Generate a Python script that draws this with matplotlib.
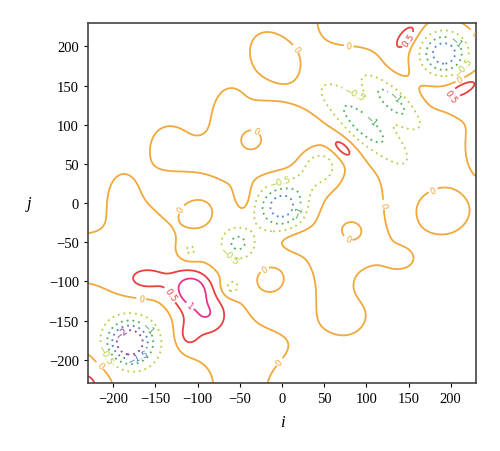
import numpy as np
import matplotlib
matplotlib.use("Agg")
import matplotlib.pyplot as plt

# contour levels and their colours (negative levels are dotted)
levels = [-2.0, -1.5, -1.0, -0.5, 0.0, 0.5, 1.0]
level_colors = ["#8a3fa0", "#4f7fd0", "#4fae5a", "#b5cf3c", "#f0a93a", "#e8403c", "#e6348a"]

# sign of the gentle ground between the zero lines, read on a 40-unit grid
ground_x = [-220, -180, -140, -100, -60, -20, 20, 60, 100, 140, 180, 220]
ground_y = [220, 180, 140, 100, 60, 20, -20, -60, -100, -140, -180, -220]
ground_sign = [
    [-1, -1, -1, -1, -1, -1, -1,  1,  1,  1,  1,  1],
    [-1, -1, -1, -1, -1,  0, -1, -1, -1,  1,  1,  1],
    [-1, -1, -1, -1,  0, -1, -1, -1, -1, -1,  1,  1],
    [-1, -1,  0, -1,  1,  1,  1,  0, -1, -1, -1,  0],
    [-1, -1,  1,  1,  1,  1,  1,  1,  0, -1, -1,  0],
    [-1,  0, -1, -1,  0,  0, -1,  0,  1, -1, -1, -1],
    [-1,  1,  0, -1, -1, -1,  0,  1,  1, -1, -1, -1],
    [ 1,  1,  1, -1, -1, -1,  0,  1,  1,  0, -1, -1],
    [ 0,  1,  1,  1, -1, -1, -1,  1, -1, -1, -1, -1],
    [-1, -1, -1,  1,  1, -1, -1,  1,  0, -1, -1, -1],
    [ 0, -1, -1,  1,  1,  1,  0, -1, -1, -1, -1, -1],
    [ 1, -1, -1, -1,  1,  0, -1, -1, -1, -1, -1, -1],
]
ground_amp = 0.15
ground_width = 22

# wells (minima): centre, depth, widths, tilt in degrees
well_x = [-181, 0, 45, 25, 96, 130, 192, -110, -52, -60, -37, 82]
well_y = [-178, -4, 47, 25, 100, 130, 191, -61, -51, -108, 81, -36]
well_amp = [-2.55, -1.75, -1.05, -0.3, -1.1, -1.0, -2.2, -0.5, -0.9, -0.55, -0.6, -0.6]
well_sx = [18, 19, 15, 12, 40, 28, 20, 8.5, 12, 8, 9.7, 9]
well_sy = [18, 19, 15, 12, 13, 10, 20, 8.5, 12, 8, 9.7, 9]
well_tilt = [0, 0, 0, 0, -45, -45, 0, 0, 0, 0, 0, 0]

# peaks (maxima)
peak_x = [-107, -160, -82, -112, -100, 72, 147, 214, -238, -100, 190, -14,
          25, 75, -5, 233, -130, -190, -62, 140, -15, -45]
peak_y = [-111, -98, -140, -170, -148, 70, 212, 146, -236, -14, -10, -98,
          -48, -150, 185, 65, 78, 5, 115, -72, 115, 5]
peak_amp = [1.2, 0.45, 0.4, 0.45, 0.45, 0.6, 0.6, 0.6, 0.8, 0.6, 0.7, 0.6,
            0.4, 0.35, 0.65, 0.4, 0.25, 0.45, 0.35, 0.35, 0.3, 0.35]
peak_sx = [17, 18, 12, 9, 16, 15, 14, 16, 14, 13, 22, 12,
           25, 14, 26, 8, 12, 11, 12, 13, 20, 8]
peak_sy = [17, 11, 14, 12, 16, 7, 6, 6, 14, 13, 22, 12,
           9, 14, 17, 20, 12, 22, 20, 10, 10, 16]
peak_tilt = [0, 0, 0, 0, 0, -45, 55, 30, 0, 0, 0, 0,
             0, 0, -50, 0, 0, 0, 0, 0, 0, 0]

xs = np.linspace(-230, 230, 461)
ys = np.linspace(-230, 230, 461)
X, Y = np.meshgrid(xs, ys)
Z = np.zeros_like(X)


def add_bumps(Z, bx, by, amp, sx, sy, tilt):
    for cx, cy, a, wx, wy, t in zip(bx, by, amp, sx, sy, tilt):
        th = np.deg2rad(t)
        u = (X - cx) * np.cos(th) + (Y - cy) * np.sin(th)
        v = -(X - cx) * np.sin(th) + (Y - cy) * np.cos(th)
        Z += a * np.exp(-0.5 * ((u / wx) ** 2 + (v / wy) ** 2))
    return Z


for r, gy in enumerate(ground_y):
    for c, gx in enumerate(ground_x):
        if ground_sign[r][c]:
            Z = add_bumps(Z, [gx], [gy], [ground_amp * ground_sign[r][c]],
                          [ground_width], [ground_width], [0])

Z = add_bumps(Z, well_x, well_y, well_amp, well_sx, well_sy, well_tilt)
Z = add_bumps(Z, peak_x, peak_y, peak_amp, peak_sx, peak_sy, peak_tilt)

fig = plt.figure(figsize=(5.0, 4.52), dpi=100)
ax = fig.add_axes([0.176, 0.150, 0.776, 0.797])

styles = ["solid" if lv >= 0 else (0, (1, 2.2)) for lv in levels]
cs = ax.contour(X, Y, Z, levels=levels, colors=level_colors,
                linestyles=styles, linewidths=1.3)


def fmt(v):
    s = "%g" % v
    return s.replace("-", "\u2212")


ax.clabel(cs, cs.levels, inline=True, fontsize=6.5, fmt=fmt, inline_spacing=2)

ax.set_xlim(-230, 230)
ax.set_ylim(-230, 230)
ticks = [-200, -150, -100, -50, 0, 50, 100, 150, 200]
ax.set_xticks(ticks)
ax.set_yticks(ticks)
ax.set_xticklabels([fmt(t) for t in ticks], family="Liberation Serif", fontsize=10.5)
ax.set_yticklabels([fmt(t) for t in ticks], family="Liberation Serif", fontsize=10.5)
ax.tick_params(direction="out", length=3, width=0.8, top=False, right=False)
for sp in ax.spines.values():
    sp.set_color("#444444")
    sp.set_linewidth(1.2)

ax.set_xlabel("i", family="Liberation Serif", style="italic", fontsize=12, labelpad=6)
ax.set_ylabel("j", family="Liberation Serif", style="italic", fontsize=12,
              rotation=0, labelpad=14, va="center")

fig.savefig("out.png", dpi=100)
